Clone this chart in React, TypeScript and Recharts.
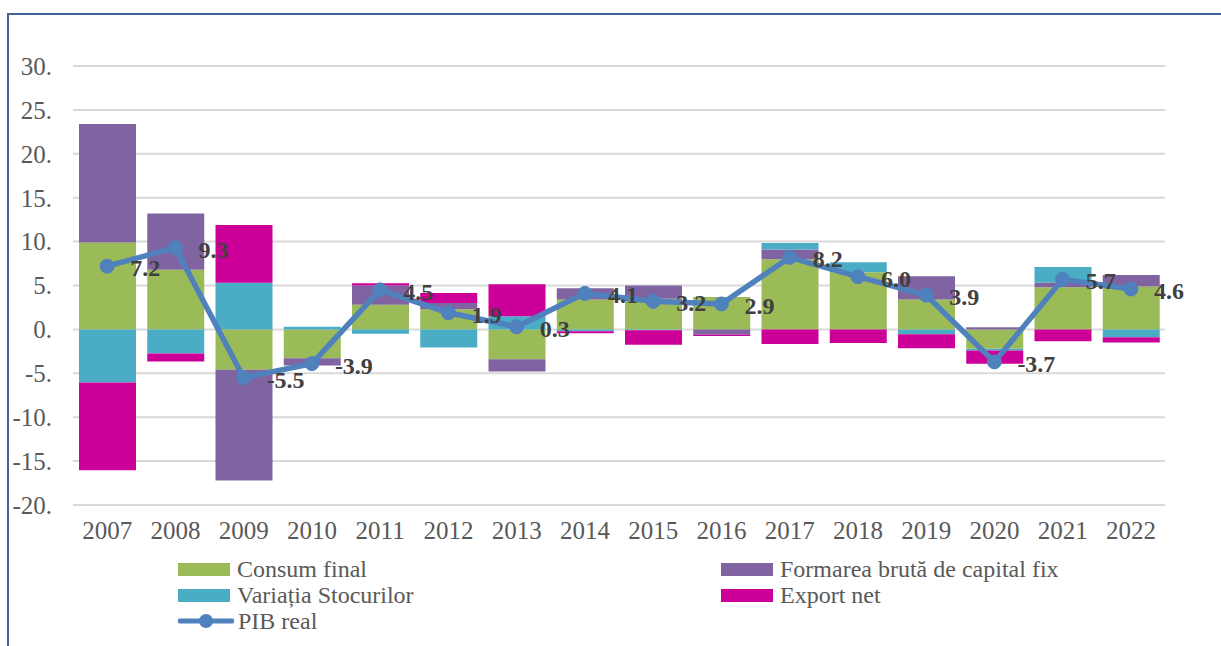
import { ComposedChart, Bar, Line, XAxis, YAxis, CartesianGrid, LabelList } from 'recharts'

const years = ['2007', '2008', '2009', '2010', '2011', '2012', '2013', '2014', '2015', '2016', '2017', '2018', '2019', '2020', '2021', '2022']
const consumFinal = [9.9, 6.8, -4.6, -3.3, 2.8, 2.3, -3.4, 3.4, 3.5, 3.7, 8.0, 6.5, 3.4, -2.2, 4.8, 4.9]
const formareaBruta = [13.5, 6.4, -12.6, -0.8, 2.2, 0.7, -1.4, 1.3, 1.5, -0.6, 1.1, 0, 2.65, 0.25, 0.55, 1.3]
const variatiaStocurilor = [-6.05, -2.75, 5.3, 0.3, -0.5, -2.05, 1.5, -0.2, -0.1, 0, 0.75, 1.15, -0.55, -0.2, 1.75, -0.9]
const exportNet = [-10.0, -0.9, 6.6, 0, 0.25, 1.15, 3.65, -0.25, -1.65, -0.15, -1.65, -1.55, -1.6, -1.5, -1.35, -0.6]
const pibReal = [7.2, 9.3, -5.5, -3.9, 4.5, 1.9, 0.3, 4.1, 3.2, 2.9, 8.2, 6.0, 3.9, -3.7, 5.7, 4.6]
const yTicks = [-20, -15, -10, -5, 0, 5, 10, 15, 20, 25, 30]

const COLORS = {
  consum: '#9BBB59',
  formarea: '#8064A2',
  stocuri: '#4BACC6',
  export: '#CC0099',
  pib: '#4F81BD',
}

const FONT = '"Liberation Serif", serif'

const data = years.map((year, i) => ({
  year,
  consum: consumFinal[i],
  formarea: formareaBruta[i],
  stocuri: variatiaStocurilor[i],
  export: exportNet[i],
  pib: pibReal[i],
}))

const legendItems = [
  { name: 'Consum final', color: COLORS.consum, left: 178, top: 556, line: false },
  { name: 'Formarea brută de capital fix', color: COLORS.formarea, left: 721, top: 556, line: false },
  { name: 'Variația Stocurilor', color: COLORS.stocuri, left: 178, top: 582, line: false },
  { name: 'Export net', color: COLORS.export, left: 721, top: 582, line: false },
  { name: 'PIB real', color: COLORS.pib, left: 178, top: 608, line: true },
]

const tickStyle = { fill: '#595959', fontSize: 25, fontFamily: FONT }

function PointLabel(props: any) {
  const { x, y, value } = props
  return (
    <text
      x={x + 23}
      y={y + 2}
      dominantBaseline="central"
      fill="#404040"
      fontSize={24}
      fontWeight="bold"
      fontFamily={FONT}
    >
      {Number(value).toFixed(1)}
    </text>
  )
}

export default function App() {
  return (
    <div style={{ position: 'absolute', left: 0, top: 0, width: 1221, height: 646, background: '#fff', overflow: 'hidden' }}>
      <div
        style={{
          position: 'absolute',
          left: 7,
          top: 13,
          width: 1300,
          height: 700,
          borderLeft: '2px solid #41679A',
          borderTop: '2px solid #41679A',
        }}
      />
      <div style={{ position: 'absolute', left: 0, top: 0 }}>
        <ComposedChart
          width={1221}
          height={646}
          data={data}
          stackOffset="sign"
          margin={{ top: 66, right: 0, bottom: 101, left: 0 }}
          barSize={57}
        >
          <CartesianGrid vertical={false} stroke="#D9D9D9" strokeWidth={2} />
          <XAxis
            dataKey="year"
            axisLine={false}
            tickLine={false}
            tickSize={0}
            tickMargin={16}
            height={40}
            interval={0}
            tick={tickStyle}
          />
          <YAxis
            width={73}
            domain={[-20, 30]}
            ticks={yTicks}
            axisLine={false}
            tickLine={false}
            tickSize={0}
            tickMargin={21}
            tickFormatter={(v) => `${v}.`}
            tick={tickStyle}
          />
          <YAxis
            yAxisId="r"
            orientation="right"
            width={56}
            domain={[-20, 30]}
            ticks={yTicks}
            axisLine={false}
            tickLine={false}
            tickSize={0}
            tickMargin={24}
            tickFormatter={(v) => `${v}.`}
            tick={{ ...tickStyle, textAnchor: 'start' }}
          />
          <Bar dataKey="consum" stackId="a" fill={COLORS.consum} isAnimationActive={false} />
          <Bar dataKey="formarea" stackId="a" fill={COLORS.formarea} isAnimationActive={false} />
          <Bar dataKey="stocuri" stackId="a" fill={COLORS.stocuri} isAnimationActive={false} />
          <Bar dataKey="export" stackId="a" fill={COLORS.export} isAnimationActive={false} />
          <Line
            dataKey="pib"
            stroke={COLORS.pib}
            strokeWidth={5.5}
            dot={{ r: 7, fill: COLORS.pib, stroke: COLORS.pib, strokeWidth: 1 }}
            isAnimationActive={false}
          >
            <LabelList dataKey="pib" content={<PointLabel />} />
          </Line>
        </ComposedChart>
      </div>
      {legendItems.map((item) => (
        <div
          key={item.name}
          style={{
            position: 'absolute',
            left: item.left,
            top: item.top,
            height: 26,
            display: 'flex',
            alignItems: 'center',
            fontFamily: FONT,
            fontSize: 24,
            color: '#595959',
            whiteSpace: 'nowrap',
          }}
        >
          {item.line ? (
            <svg width={56} height={16} style={{ marginRight: 4 }}>
              <line x1={2} y1={8} x2={54} y2={8} stroke={item.color} strokeWidth={5} strokeLinecap="round" />
              <circle cx={28} cy={8} r={7} fill={item.color} />
            </svg>
          ) : (
            <span style={{ display: 'inline-block', width: 52, height: 13, background: item.color, marginRight: 7 }} />
          )}
          {item.name}
        </div>
      ))}
    </div>
  )
}
